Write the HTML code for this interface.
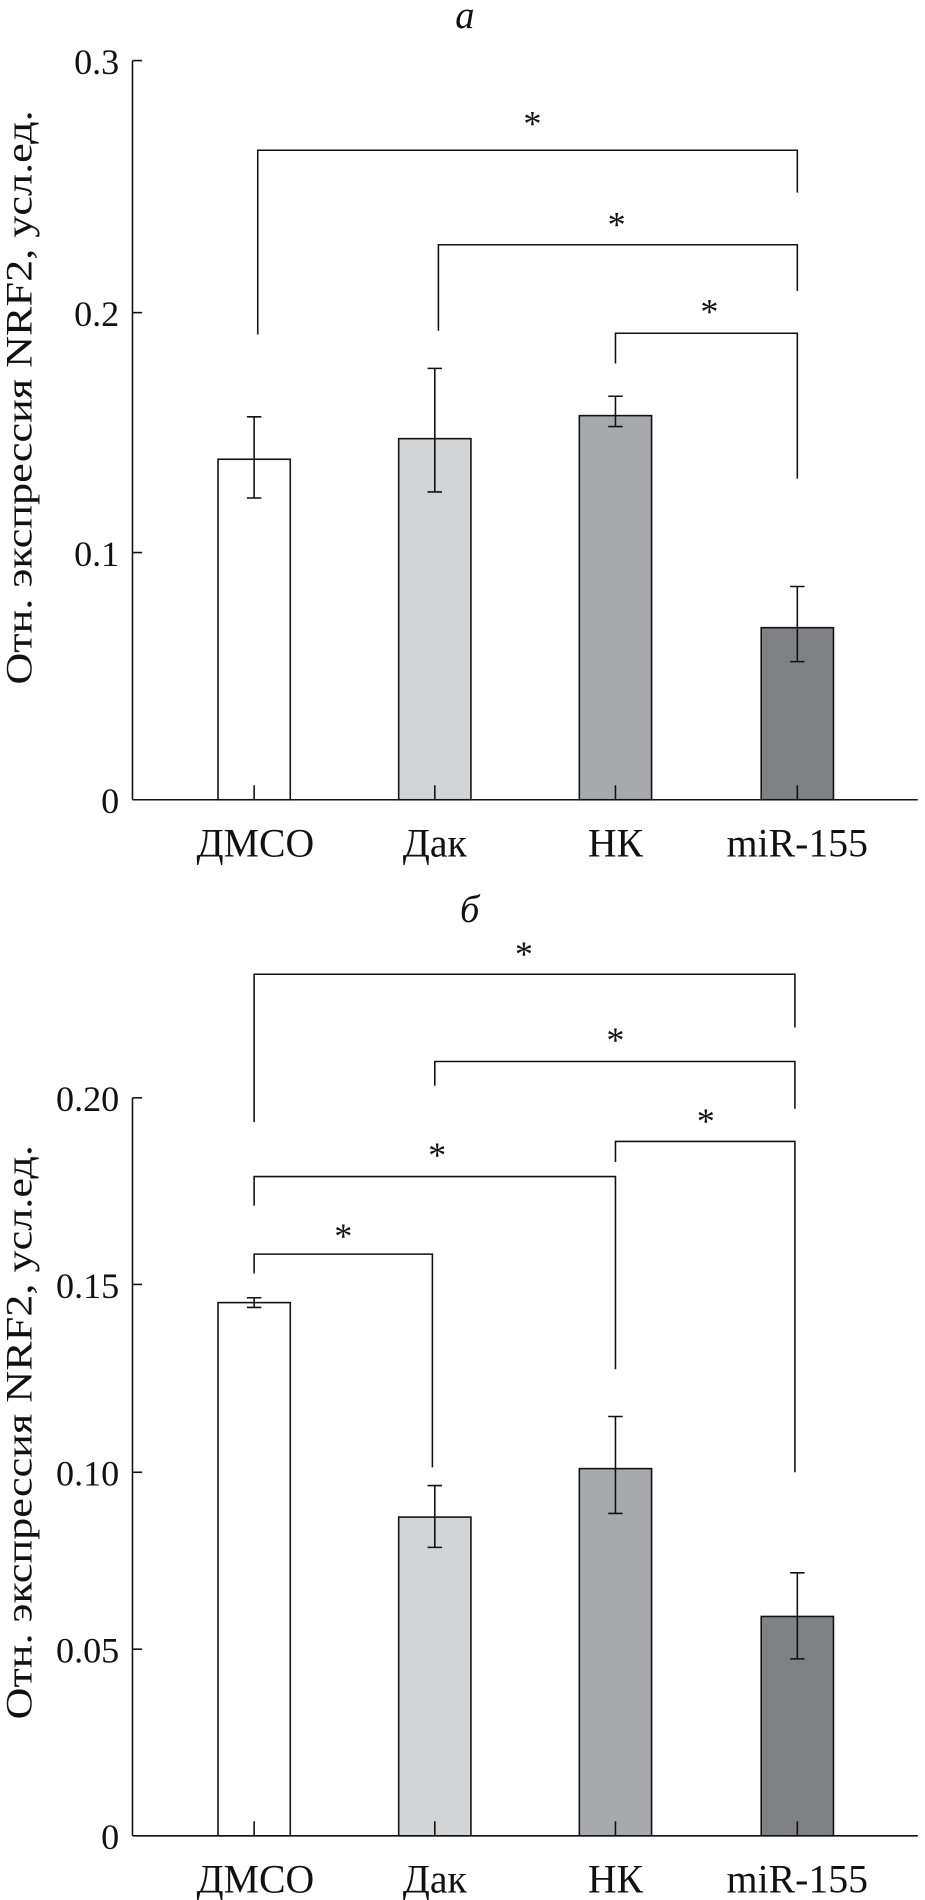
<!DOCTYPE html>
<html><head><meta charset="utf-8"><style>
html,body{margin:0;padding:0;background:#fff;}
svg{display:block;}
text{font-family:"Liberation Serif","DejaVu Serif",serif;fill:#111;}
</style></head><body>
<svg width="925" height="1900" viewBox="0 0 768 1568" preserveAspectRatio="none" xmlns="http://www.w3.org/2000/svg">
<g stroke="#111" stroke-width="1.3" fill="none">
<!-- TOP CHART -->
<line x1="110" y1="50" x2="110" y2="660"/>
<line x1="110" y1="660" x2="762" y2="660"/>
<line x1="110" y1="50" x2="118" y2="50"/>
<line x1="110" y1="258" x2="118" y2="258"/>
<line x1="110" y1="456" x2="118" y2="456"/>
<rect x="181" y="379" width="60" height="281" fill="#ffffff"/>
<rect x="331" y="362" width="60" height="298" fill="#d3d4d6"/>
<rect x="481" y="343" width="60" height="317" fill="#a8a9ac"/>
<rect x="632" y="518" width="60" height="142" fill="#808184"/>
<path d="M211 344V411M205 344H217M205 411H217M211 648V660"/>
<path d="M361 304V406M355 304H367M355 406H367M361 648V660"/>
<path d="M511 327V352M505 327H517M505 352H517M511 648V660"/>
<path d="M662 484V546M656 484H668M656 546H668M662 648V660"/>
<path d="M214 276V124H662V159"/>
<path d="M364 273V202H662V240"/>
<path d="M511 300V275H662V395"/>
<!-- BOTTOM CHART -->
<line x1="110" y1="906" x2="110" y2="1515"/>
<line x1="110" y1="1515" x2="762" y2="1515"/>
<line x1="110" y1="906" x2="118" y2="906"/>
<line x1="110" y1="1060" x2="118" y2="1060"/>
<line x1="110" y1="1215" x2="118" y2="1215"/>
<line x1="110" y1="1361" x2="118" y2="1361"/>
<rect x="181" y="1075" width="60" height="440" fill="#ffffff"/>
<rect x="331" y="1252" width="60" height="263" fill="#d3d4d6"/>
<rect x="481" y="1212" width="60" height="303" fill="#a8a9ac"/>
<rect x="632" y="1334" width="60" height="181" fill="#808184"/>
<path d="M211 1071V1079M205 1071H217M205 1079H217M211 1503V1515"/>
<path d="M361 1226V1277M355 1226H367M355 1277H367M361 1503V1515"/>
<path d="M511 1169V1249M505 1169H517M505 1249H517M511 1503V1515"/>
<path d="M662 1298V1369M656 1298H668M656 1369H668M662 1503V1515"/>
<path d="M211 926V804H660V848"/>
<path d="M361 896V876H660V915"/>
<path d="M511 959V942H660V1215"/>
<path d="M211 995V971H511V1130"/>
<path d="M211 1051V1035H359V1211"/>
</g>
<g font-size="30">
<text x="386" y="23" font-style="italic" text-anchor="middle" font-size="32">а</text>
<text x="99" y="61" text-anchor="end">0.3</text>
<text x="99" y="269" text-anchor="end">0.2</text>
<text x="99" y="467" text-anchor="end">0.1</text>
<text x="99" y="671" text-anchor="end">0</text>
<text x="212" y="707" text-anchor="middle" font-size="33">ДМСО</text>
<text x="361" y="707" text-anchor="middle" font-size="33">Дак</text>
<text x="511" y="707" text-anchor="middle" font-size="33">НК</text>
<text x="662" y="707" text-anchor="middle" font-size="33">miR-155</text>
<text x="442" y="112" text-anchor="middle">*</text>
<text x="512" y="195" text-anchor="middle">*</text>
<text x="589" y="267" text-anchor="middle">*</text>
<text transform="translate(26,328) rotate(-90)" text-anchor="middle" font-size="31" textLength="474" lengthAdjust="spacingAndGlyphs">Отн. экспрессия NRF2, усл.ед.</text>

<text x="390" y="761" font-style="italic" text-anchor="middle" font-size="32">б</text>
<text x="99" y="917" text-anchor="end">0.20</text>
<text x="99" y="1071" text-anchor="end">0.15</text>
<text x="99" y="1226" text-anchor="end">0.10</text>
<text x="99" y="1372" text-anchor="end">0.05</text>
<text x="99" y="1526" text-anchor="end">0</text>
<text x="212" y="1562" text-anchor="middle" font-size="33">ДМСО</text>
<text x="361" y="1562" text-anchor="middle" font-size="33">Дак</text>
<text x="511" y="1562" text-anchor="middle" font-size="33">НК</text>
<text x="662" y="1562" text-anchor="middle" font-size="33">miR-155</text>
<text x="435" y="797" text-anchor="middle">*</text>
<text x="511" y="868" text-anchor="middle">*</text>
<text x="586" y="935" text-anchor="middle">*</text>
<text x="363" y="963" text-anchor="middle">*</text>
<text x="285" y="1030" text-anchor="middle">*</text>
<text transform="translate(26,1182) rotate(-90)" text-anchor="middle" font-size="31" textLength="474" lengthAdjust="spacingAndGlyphs">Отн. экспрессия NRF2, усл.ед.</text>
</g>
</svg>
</body></html>
